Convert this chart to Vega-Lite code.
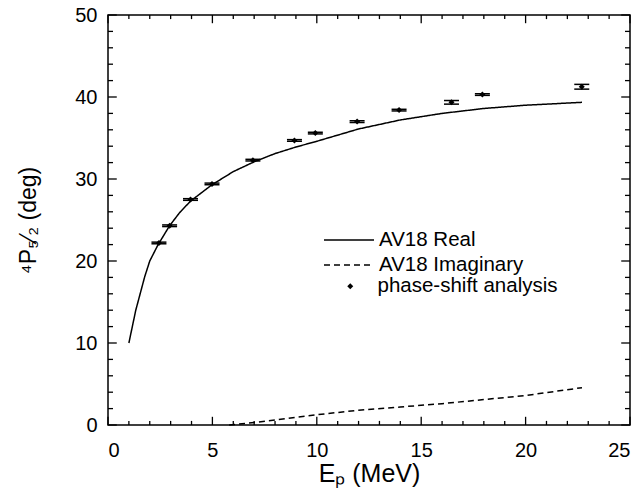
{
  "$schema": "https://vega.github.io/schema/vega-lite/v6.json",
  "width": 522,
  "height": 410,
  "autosize": {"type": "none"},
  "padding": {"left": 108, "top": 15, "right": 13, "bottom": 66},
  "background": "white",
  "config": {
    "font": "Liberation Sans",
    "view": {"stroke": "black", "strokeWidth": 1.5},
    "axis": {
      "domain": false,
      "ticks": false,
      "grid": false,
      "labelColor": "black",
      "titleColor": "black",
      "labelFont": "Liberation Sans",
      "titleFont": "Liberation Sans",
      "labelFontSize": 20,
      "titleFontSize": 25,
      "titleFontWeight": "normal"
    },
    "legend": {
      "labelFont": "Liberation Sans",
      "labelFontSize": 20.5,
      "labelColor": "black",
      "labelLimit": 400,
      "title": null
    }
  },
  "datasets": {
    "curves": [
      {"E": 1.0, "delta": 10.0, "curve": "AV18 Real"},
      {"E": 1.33, "delta": 14.0, "curve": "AV18 Real"},
      {"E": 1.76, "delta": 18.1, "curve": "AV18 Real"},
      {"E": 2.0, "delta": 20.0, "curve": "AV18 Real"},
      {"E": 2.4, "delta": 22.0, "curve": "AV18 Real"},
      {"E": 2.95, "delta": 24.3, "curve": "AV18 Real"},
      {"E": 3.43, "delta": 25.9, "curve": "AV18 Real"},
      {"E": 3.95, "delta": 27.3, "curve": "AV18 Real"},
      {"E": 4.98, "delta": 29.3, "curve": "AV18 Real"},
      {"E": 6.0, "delta": 30.9, "curve": "AV18 Real"},
      {"E": 7.0, "delta": 32.1, "curve": "AV18 Real"},
      {"E": 8.0, "delta": 33.1, "curve": "AV18 Real"},
      {"E": 9.0, "delta": 33.9, "curve": "AV18 Real"},
      {"E": 10.0, "delta": 34.6, "curve": "AV18 Real"},
      {"E": 12.0, "delta": 36.1, "curve": "AV18 Real"},
      {"E": 14.0, "delta": 37.2, "curve": "AV18 Real"},
      {"E": 16.0, "delta": 38.0, "curve": "AV18 Real"},
      {"E": 18.0, "delta": 38.6, "curve": "AV18 Real"},
      {"E": 20.0, "delta": 39.0, "curve": "AV18 Real"},
      {"E": 22.7, "delta": 39.35, "curve": "AV18 Real"},
      {"E": 5.8, "delta": 0.0, "curve": "AV18 Imaginary"},
      {"E": 7.0, "delta": 0.3, "curve": "AV18 Imaginary"},
      {"E": 8.0, "delta": 0.6, "curve": "AV18 Imaginary"},
      {"E": 9.0, "delta": 0.95, "curve": "AV18 Imaginary"},
      {"E": 10.0, "delta": 1.25, "curve": "AV18 Imaginary"},
      {"E": 12.0, "delta": 1.8, "curve": "AV18 Imaginary"},
      {"E": 14.0, "delta": 2.2, "curve": "AV18 Imaginary"},
      {"E": 16.0, "delta": 2.6, "curve": "AV18 Imaginary"},
      {"E": 18.0, "delta": 3.1, "curve": "AV18 Imaginary"},
      {"E": 20.0, "delta": 3.6, "curve": "AV18 Imaginary"},
      {"E": 22.7, "delta": 4.55, "curve": "AV18 Imaginary"}
    ],
    "pts": [
      {"E": 2.44, "delta": 22.2, "lo": 22.1, "hi": 22.3, "src": "phase-shift analysis"},
      {"E": 2.95, "delta": 24.3, "lo": 24.2, "hi": 24.4, "src": "phase-shift analysis"},
      {"E": 3.95, "delta": 27.5, "lo": 27.4, "hi": 27.6, "src": "phase-shift analysis"},
      {"E": 4.98, "delta": 29.4, "lo": 29.3, "hi": 29.5, "src": "phase-shift analysis"},
      {"E": 6.94, "delta": 32.3, "lo": 32.2, "hi": 32.4, "src": "phase-shift analysis"},
      {"E": 8.93, "delta": 34.7, "lo": 34.6, "hi": 34.8, "src": "phase-shift analysis"},
      {"E": 9.93, "delta": 35.6, "lo": 35.5, "hi": 35.7, "src": "phase-shift analysis"},
      {"E": 11.93, "delta": 37.0, "lo": 36.9, "hi": 37.1, "src": "phase-shift analysis"},
      {"E": 13.94, "delta": 38.4, "lo": 38.3, "hi": 38.5, "src": "phase-shift analysis"},
      {"E": 16.45, "delta": 39.35, "lo": 39.13, "hi": 39.57, "src": "phase-shift analysis"},
      {"E": 17.93, "delta": 40.3, "lo": 40.2, "hi": 40.4, "src": "phase-shift analysis"},
      {"E": 22.69, "delta": 41.25, "lo": 40.96, "hi": 41.54, "src": "phase-shift analysis"}
    ],
    "xMajor": [{"E": 0}, {"E": 5}, {"E": 10}, {"E": 15}, {"E": 20}, {"E": 25}],
    "xMinor": [{"E": 1}, {"E": 2}, {"E": 3}, {"E": 4}, {"E": 6}, {"E": 7}, {"E": 8}, {"E": 9}, {"E": 11}, {"E": 12}, {"E": 13}, {"E": 14}, {"E": 16}, {"E": 17}, {"E": 18}, {"E": 19}, {"E": 21}, {"E": 22}, {"E": 23}, {"E": 24}],
    "yMajor": [{"delta": 0}, {"delta": 10}, {"delta": 20}, {"delta": 30}, {"delta": 40}, {"delta": 50}],
    "yMinor": [{"delta": 2}, {"delta": 4}, {"delta": 6}, {"delta": 8}, {"delta": 12}, {"delta": 14}, {"delta": 16}, {"delta": 18}, {"delta": 22}, {"delta": 24}, {"delta": 26}, {"delta": 28}, {"delta": 32}, {"delta": 34}, {"delta": 36}, {"delta": 38}, {"delta": 42}, {"delta": 44}, {"delta": 46}, {"delta": 48}]
  },
  "layer": [
    {
      "data": {"name": "curves"},
      "mark": {"type": "line", "strokeWidth": 1.5, "color": "black"},
      "encoding": {
        "x": {
          "field": "E", "type": "quantitative",
          "scale": {"domain": [0, 25], "nice": false, "zero": false},
          "axis": {"orient": "bottom", "values": [0, 5, 10, 15, 20, 25], "labelPadding": 15, "title": "Eₚ (MeV)", "titlePadding": 1}
        },
        "y": {
          "field": "delta", "type": "quantitative",
          "scale": {"domain": [0, 50], "nice": false, "zero": false},
          "axis": {"orient": "left", "values": [0, 10, 20, 30, 40, 50], "labelPadding": 11, "title": "⁴P₅⁄₂ (deg)", "titleFontSize": 23, "titlePadding": 34}
        },
        "strokeDash": {
          "field": "curve", "type": "nominal",
          "scale": {"domain": ["AV18 Real", "AV18 Imaginary"], "range": [[1, 0], [6, 4]]},
          "legend": {"orient": "none", "legendX": 215, "legendY": 215, "symbolType": "stroke", "symbolSize": 2500, "clipHeight": 20, "symbolStrokeWidth": 1.5, "symbolStrokeColor": "black", "labelOffset": 4, "rowPadding": 4}
        }
      }
    },
    {
      "data": {"name": "xMajor"},
      "mark": {"type": "rule", "strokeWidth": 1.3, "color": "black"},
      "encoding": {
        "x": {"field": "E", "type": "quantitative"},
        "y": {"datum": 0, "type": "quantitative"},
        "y2": {"datum": 1}
      }
    },
    {
      "data": {"name": "xMajor"},
      "mark": {"type": "rule", "strokeWidth": 1.3, "color": "black"},
      "encoding": {
        "x": {"field": "E", "type": "quantitative"},
        "y": {"datum": 50, "type": "quantitative"},
        "y2": {"datum": 49}
      }
    },
    {
      "data": {"name": "xMinor"},
      "mark": {"type": "rule", "strokeWidth": 1.3, "color": "black"},
      "encoding": {
        "x": {"field": "E", "type": "quantitative"},
        "y": {"datum": 0, "type": "quantitative"},
        "y2": {"datum": 0.5}
      }
    },
    {
      "data": {"name": "xMinor"},
      "mark": {"type": "rule", "strokeWidth": 1.3, "color": "black"},
      "encoding": {
        "x": {"field": "E", "type": "quantitative"},
        "y": {"datum": 50, "type": "quantitative"},
        "y2": {"datum": 49.5}
      }
    },
    {
      "data": {"name": "yMajor"},
      "mark": {"type": "rule", "strokeWidth": 1.3, "color": "black"},
      "encoding": {
        "y": {"field": "delta", "type": "quantitative"},
        "x": {"datum": 0, "type": "quantitative"},
        "x2": {"datum": 0.42}
      }
    },
    {
      "data": {"name": "yMajor"},
      "mark": {"type": "rule", "strokeWidth": 1.3, "color": "black"},
      "encoding": {
        "y": {"field": "delta", "type": "quantitative"},
        "x": {"datum": 25, "type": "quantitative"},
        "x2": {"datum": 24.58}
      }
    },
    {
      "data": {"name": "yMinor"},
      "mark": {"type": "rule", "strokeWidth": 1.3, "color": "black"},
      "encoding": {
        "y": {"field": "delta", "type": "quantitative"},
        "x": {"datum": 0, "type": "quantitative"},
        "x2": {"datum": 0.24}
      }
    },
    {
      "data": {"name": "yMinor"},
      "mark": {"type": "rule", "strokeWidth": 1.3, "color": "black"},
      "encoding": {
        "y": {"field": "delta", "type": "quantitative"},
        "x": {"datum": 25, "type": "quantitative"},
        "x2": {"datum": 24.76}
      }
    },
    {
      "data": {"name": "pts"},
      "mark": {"type": "rule", "strokeWidth": 1.5, "color": "black"},
      "encoding": {
        "x": {"field": "E", "type": "quantitative"},
        "y": {"field": "lo", "type": "quantitative"},
        "y2": {"field": "hi"}
      }
    },
    {
      "data": {"name": "pts"},
      "mark": {"type": "tick", "orient": "horizontal", "size": 15, "thickness": 1.5, "color": "black", "opacity": 1},
      "encoding": {
        "x": {"field": "E", "type": "quantitative"},
        "y": {"field": "lo", "type": "quantitative"}
      }
    },
    {
      "data": {"name": "pts"},
      "mark": {"type": "tick", "orient": "horizontal", "size": 15, "thickness": 1.5, "color": "black", "opacity": 1},
      "encoding": {
        "x": {"field": "E", "type": "quantitative"},
        "y": {"field": "hi", "type": "quantitative"}
      }
    },
    {
      "data": {"name": "pts"},
      "mark": {"type": "point", "filled": true, "size": 36, "color": "black", "opacity": 1},
      "encoding": {
        "x": {"field": "E", "type": "quantitative"},
        "y": {"field": "delta", "type": "quantitative"},
        "shape": {
          "field": "src", "type": "nominal",
          "scale": {"domain": ["phase-shift analysis"], "range": ["diamond"]},
          "legend": {"orient": "none", "legendX": 232, "legendY": 261, "symbolSize": 36, "symbolFillColor": "black", "symbolStrokeColor": "black", "labelOffset": 17}
        }
      }
    }
  ]
}
